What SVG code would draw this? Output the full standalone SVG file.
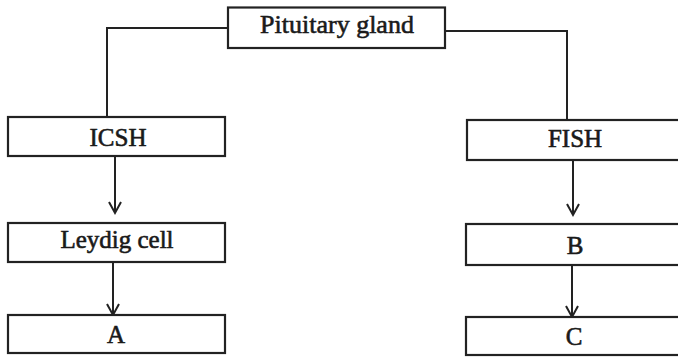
<svg xmlns="http://www.w3.org/2000/svg" width="678" height="358" viewBox="0 0 678 358">
<style>
.box{fill:#fff;stroke:#222;stroke-width:2.2}
.lbl{font-family:"Liberation Serif","Times New Roman",serif;font-size:25px;fill:#1a1a1a;stroke:#1a1a1a;stroke-width:0.6;text-anchor:middle}
.con{fill:none;stroke:#222;stroke-width:2}
</style>
<defs>
<marker id="ah" markerUnits="userSpaceOnUse" markerWidth="16" markerHeight="16" viewBox="-14 -8 16 16" refX="0" refY="0" orient="auto" overflow="visible">
<path d="M-11,-6 L0,0 L-11,6" fill="none" stroke="#222" stroke-width="2"/>
</marker>
</defs>
<rect width="678" height="358" fill="#fff"/>
<g id="connectors">
<polyline class="con" points="228,28 107,28 107,117"/>
<polyline class="con" points="445,31 567,31 567,120"/>
<line class="con" x1="115" y1="156" x2="115" y2="213" marker-end="url(#ah)"/>
<line class="con" x1="113" y1="262" x2="113" y2="315" marker-end="url(#ah)"/>
<line class="con" x1="573" y1="160" x2="573" y2="215" marker-end="url(#ah)"/>
<line class="con" x1="572" y1="265" x2="572" y2="317" marker-end="url(#ah)"/>
</g>
<g id="pituitary">
<rect class="box" x="228" y="7.5" width="217" height="40.5"/>
<text class="lbl" x="337" y="33" style="font-size:26px">Pituitary gland</text>
</g>
<g id="icsh">
<rect class="box" x="8" y="117" width="217" height="39"/>
<text class="lbl" x="118" y="146">ICSH</text>
</g>
<g id="fish">
<rect class="box" x="467" y="120" width="220" height="40"/>
<text class="lbl" x="575" y="147">FISH</text>
</g>
<g id="leydig">
<rect class="box" x="8" y="223" width="217" height="39"/>
<text class="lbl" x="117" y="248">Leydig cell</text>
</g>
<g id="b">
<rect class="box" x="466" y="224" width="220" height="41"/>
<text class="lbl" x="575" y="254">B</text>
</g>
<g id="a">
<rect class="box" x="8" y="315" width="217" height="38"/>
<text class="lbl" x="116" y="343">A</text>
</g>
<g id="c">
<rect class="box" x="466" y="317" width="220" height="38"/>
<text class="lbl" x="574" y="345">C</text>
</g>
</svg>
